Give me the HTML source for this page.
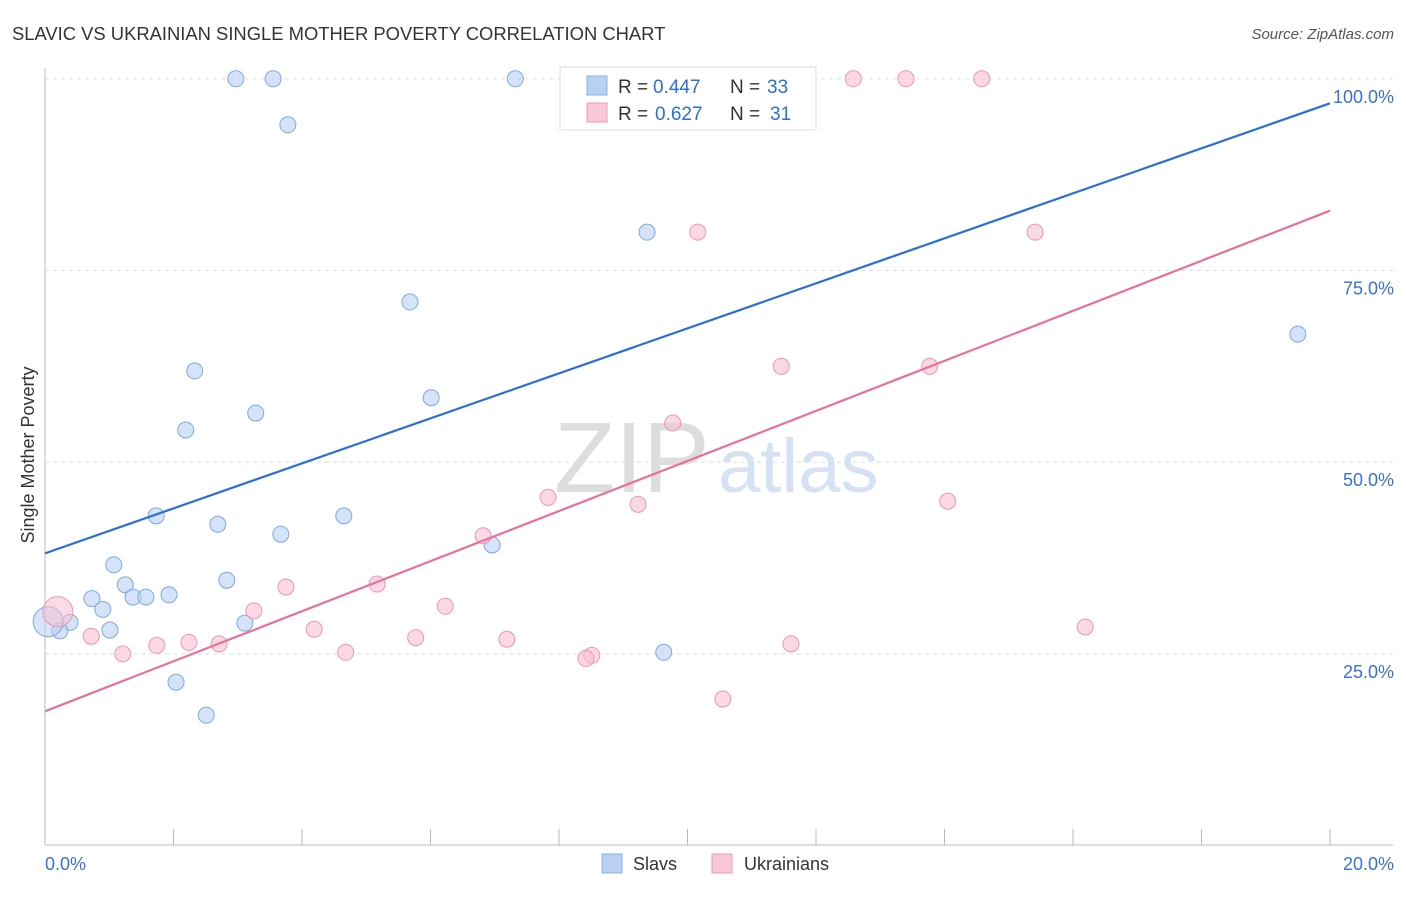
<!DOCTYPE html>
<html><head><meta charset="utf-8"><style>
body{margin:0;background:#fff;font-family:"Liberation Sans",sans-serif;}
svg text{font-family:"Liberation Sans",sans-serif;}
</style></head><body>
<svg id="c" width="1406" height="892" xmlns="http://www.w3.org/2000/svg">
<text x="12" y="40" font-size="18.4" fill="#333">SLAVIC VS UKRAINIAN SINGLE MOTHER POVERTY CORRELATION CHART</text>
<text x="1394" y="39" font-size="15" fill="#555" text-anchor="end" font-style="italic">Source: ZipAtlas.com</text>
<text transform="translate(34,455) rotate(-90)" font-size="18" fill="#333" text-anchor="middle">Single Mother Poverty</text>
<g id="grid"></g>
<text x="554" y="492" font-size="100" fill="#ddd" font-family="Liberation Serif">ZIP</text>
<text x="718" y="492" font-size="76" fill="#d6e2f4">atlas</text>
<g id="pts"></g>
<g id="lines"></g>
<rect x="560" y="67" width="256" height="63" fill="#fff" stroke="#ddd"/>
<rect x="587" y="76" width="20" height="19" fill="#b8d0f4" stroke="#8ab0e0"/>
<text x="618" y="93" font-size="19" fill="#333">R =</text>
<text x="653" y="93" font-size="19" fill="#2a6fd6">0.447</text>
<text x="730" y="93" font-size="19" fill="#333">N =</text>
<text x="767" y="93" font-size="19" fill="#2a6fd6">33</text>
<rect x="587" y="103" width="20" height="19" fill="#f8c8d6" stroke="#f09ab5"/>
<text x="618" y="120" font-size="19" fill="#333">R =</text>
<text x="655" y="120" font-size="19" fill="#2a6fd6">0.627</text>
<text x="730" y="120" font-size="19" fill="#333">N =</text>
<text x="770" y="120" font-size="19" fill="#2a6fd6">31</text>
<text x="45" y="870" font-size="18" fill="#3a6fd8">0.0%</text>
<text x="1394" y="870" font-size="18" fill="#3a6fd8" text-anchor="end">20.0%</text>
<rect x="602" y="854" width="20" height="19" fill="#b8d0f4" stroke="#8ab0e0"/>
<text x="633" y="870" font-size="18" fill="#333">Slavs</text>
<rect x="712" y="854" width="20" height="19" fill="#f8c8d6" stroke="#f09ab5"/>
<text x="744" y="870" font-size="18" fill="#333">Ukrainians</text>
</svg>
<script>
const yTicks=[25,50,75,100];
const yTickLabels=["25.0%","50.0%","75.0%","100.0%"];
const xTicks=[0,2,4,6,8,10,12,14,16,18,20];
const slavX=[2.97,3.55,7.32,3.78,9.37,5.68,2.33,6.01,3.28,2.19,1.73,4.65,2.69,3.67,6.96,1.07,1.25,2.83,0.73,1.37,1.57,1.93,0.90,0.39,0.23,1.01,0.05,3.11,9.63,2.04,2.51,19.50,9.82];
const slavY=[100,100,100,94.0,80.0,70.9,61.9,58.4,56.4,54.2,43.0,43.0,41.9,40.6,39.2,36.6,34.0,34.6,32.2,32.4,32.4,32.7,30.8,29.1,28.0,28.1,29.2,29.0,25.2,21.3,17.0,66.7,100];
const ukrX=[12.58,13.40,14.58,10.16,15.41,11.46,13.77,9.77,7.83,9.23,14.05,6.82,5.17,3.75,6.23,3.25,4.19,16.19,5.77,7.19,0.72,1.74,2.24,2.71,1.21,4.68,8.51,8.42,11.61,10.55,0.2];
const ukrY=[100,100,100,80.0,80.0,62.5,62.5,55.1,45.4,44.5,44.9,40.4,34.1,33.7,31.2,30.6,28.2,28.5,27.1,26.9,27.3,26.1,26.5,26.3,25.0,25.2,24.8,24.4,26.3,19.1,30.5];
const slavTrend=[38.1,96.8];
const ukrTrend=[17.5,82.8];
const X=v=>45+v/20*1285, Y=v=>845.5-v*7.667;
const NS="http://www.w3.org/2000/svg";
function mk(t,a,p){const e=document.createElementNS(NS,t);for(const k in a)e.setAttribute(k,a[k]);p.appendChild(e);return e;}
const g=document.getElementById('grid');
yTicks.forEach((t,i)=>{
 const l=mk('line',{x1:45,x2:1393,y1:Y(t),y2:Y(t),stroke:'#ddd','stroke-dasharray':'4,4'},g);
 
 
 const tx=mk('text',{x:1394,y:Y(t)+24,'font-size':18,fill:'#3a6fd8','text-anchor':'end'},g);
 tx.textContent=yTickLabels[i];
 
 
});
const ax=mk('line',{x1:45,x2:45,y1:68,y2:845,stroke:'#bbb'},g);


const bx=mk('line',{x1:45,x2:1393,y1:845,y2:845,stroke:'#bbb'},g);


xTicks.forEach(t=>{const l=mk('line',{x1:X(t),x2:X(t),y1:829,y2:845,stroke:'#bbb'},g);
 
 });
const p=document.getElementById('pts');
function pts(xs,ys,fill,st,name){xs.forEach((x,i)=>{const big=(x<0.21);
 const c=mk('circle',{cx:X(x),cy:Y(ys[i]),r:big?15:8,fill:fill,'fill-opacity':big?0.55:0.6,stroke:st,'stroke-width':1},p);
 
 });}
pts(slavX,slavY,'#b8d0f4','#7fa8e0','slavs-point');
pts(ukrX,ukrY,'#f8c0d2','#ee96b2','ukrainians-point');
const L=document.getElementById('lines');
const l1=mk('line',{x1:X(0),y1:Y(slavTrend[0]),x2:X(20),y2:Y(slavTrend[1]),stroke:'#2a6fd6','stroke-width':2.2},L);


const l2=mk('line',{x1:X(0),y1:Y(ukrTrend[0]),x2:X(20),y2:Y(ukrTrend[1]),stroke:'#e8709a','stroke-width':2.2},L);


</script>
</body></html>
